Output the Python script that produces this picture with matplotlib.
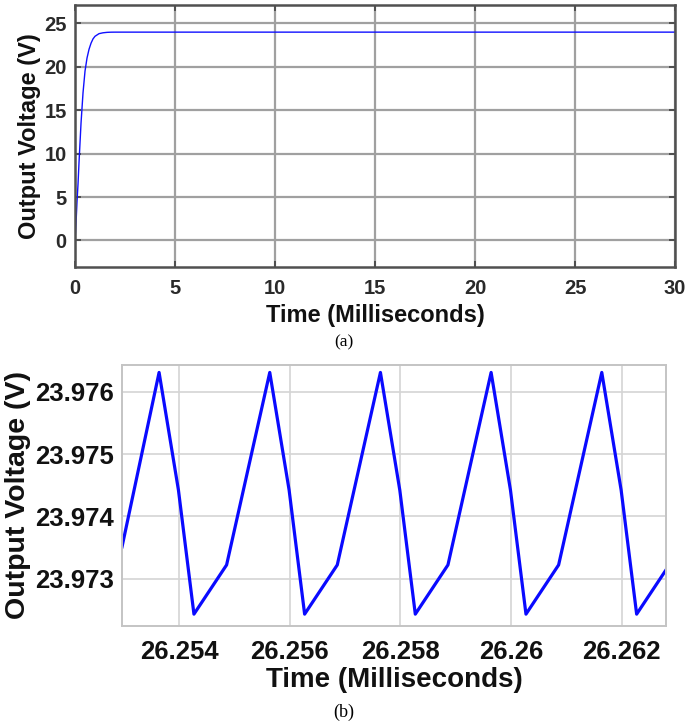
import numpy as np
import matplotlib
matplotlib.use('Agg')
import matplotlib.pyplot as plt

# (a) start-up response, 0..30 ms
t_full = [0, 0.05, 0.1, 0.15, 0.2, 0.3, 0.4, 0.5, 0.6, 0.7, 0.8, 0.9,
          1.0, 1.2, 1.4, 1.6, 1.8, 2.0, 2.5, 30.0]
v_full = [0, 2.0, 4.5, 6.5, 9.0, 13.5, 17.0, 19.5, 21.0, 22.0, 22.7, 23.2,
          23.5, 23.8, 23.9, 23.95, 23.97, 23.975, 23.976, 23.976]

# (b) steady-state ripple, zoomed in
t_zoom = [26.25297,
          26.25364, 26.25399, 26.25427, 26.25486,
          26.25564, 26.25599, 26.25627, 26.25686,
          26.25764, 26.25799, 26.25827, 26.25886,
          26.25964, 26.25999, 26.26027, 26.26086,
          26.26164, 26.26199, 26.26227, 26.26286]
v_zoom = [23.97351,
          23.97631, 23.97442, 23.97243, 23.97322,
          23.97631, 23.97442, 23.97243, 23.97322,
          23.97631, 23.97442, 23.97243, 23.97322,
          23.97631, 23.97442, 23.97243, 23.97322,
          23.97631, 23.97442, 23.97243, 23.97322]

xticks_a = [0, 5, 10, 15, 20, 25, 30]
yticks_a = [0, 5, 10, 15, 20, 25]
xticks_b = [26.254, 26.256, 26.258, 26.26, 26.262]
xlabels_b = ['26.254', '26.256', '26.258', '26.26', '26.262']
yticks_b = [23.973, 23.974, 23.975, 23.976]

plt.rcParams['font.family'] = ['Liberation Sans', 'DejaVu Sans']
plt.rcParams['font.weight'] = 'bold'

fig = plt.figure(figsize=(6.87, 7.22), dpi=100)

# ---- panel (a)
ax1 = fig.add_axes([0.1092, 0.6302, 0.8734, 0.3629])
ax1.plot(t_full, v_full, color='#1010ff', lw=1.0)
ax1.set_xlim(0, 30)
ax1.set_ylim(-3.05, 27.1)
ax1.set_xticks(xticks_a)
ax1.set_yticks(yticks_a)
ax1.grid(True, color='#a0a0a0', lw=1.6)
ax1.tick_params(direction='in', length=4, width=1.2, color='#404040',
                labelsize=14.5, labelcolor='#2a2a2a', right=True, top=True)
ax1.tick_params(axis='x', pad=9)
ax1.tick_params(axis='y', pad=6)
for s in ax1.spines.values():
    s.set_color('#505050')
    s.set_linewidth(1.8)
ax1.set_xlabel('Time (Milliseconds)', fontsize=17, fontweight='bold',
               color='#111111', labelpad=4)
ax1.set_ylabel('Output Voltage (V)', fontsize=17, fontweight='bold',
               color='#111111', labelpad=2)
fig.text(0.5, 1 - 342 / 722, '(a)', ha='center', va='center',
         family='Liberation Serif', fontweight='normal', fontsize=12.5)

# ---- panel (b)
ax2 = fig.add_axes([0.1776, 0.1330, 0.7918, 0.3615])
ax2.plot(t_zoom, v_zoom, color='#0a0aff', lw=2.3)
ax2.set_xlim(26.25297, 26.26280)
ax2.set_ylim(23.97224, 23.97643)
ax2.set_xticks(xticks_b)
ax2.set_xticklabels(xlabels_b)
ax2.set_yticks(yticks_b)
ax2.set_yticklabels(['%.3f' % v for v in yticks_b])
ax2.grid(True, color='#d4d4d4', lw=1.2)
ax2.tick_params(direction='in', length=0, labelsize=18.5,
                labelcolor='#111111')
ax2.tick_params(axis='x', pad=10)
ax2.tick_params(axis='y', pad=6)
for s in ax2.spines.values():
    s.set_color('#c4c4c4')
    s.set_linewidth(1.4)
ax2.set_xlabel('Time (Milliseconds)', fontsize=20, fontweight='bold',
               color='#111111', labelpad=2)
ax2.set_ylabel('Output Voltage (V)', fontsize=20.5, fontweight='bold',
               color='#111111', labelpad=3)
fig.text(0.5, 1 - 712 / 722, '(b)', ha='center', va='center',
         family='Liberation Serif', fontweight='normal', fontsize=13)

fig.savefig('out.png', dpi=100)
